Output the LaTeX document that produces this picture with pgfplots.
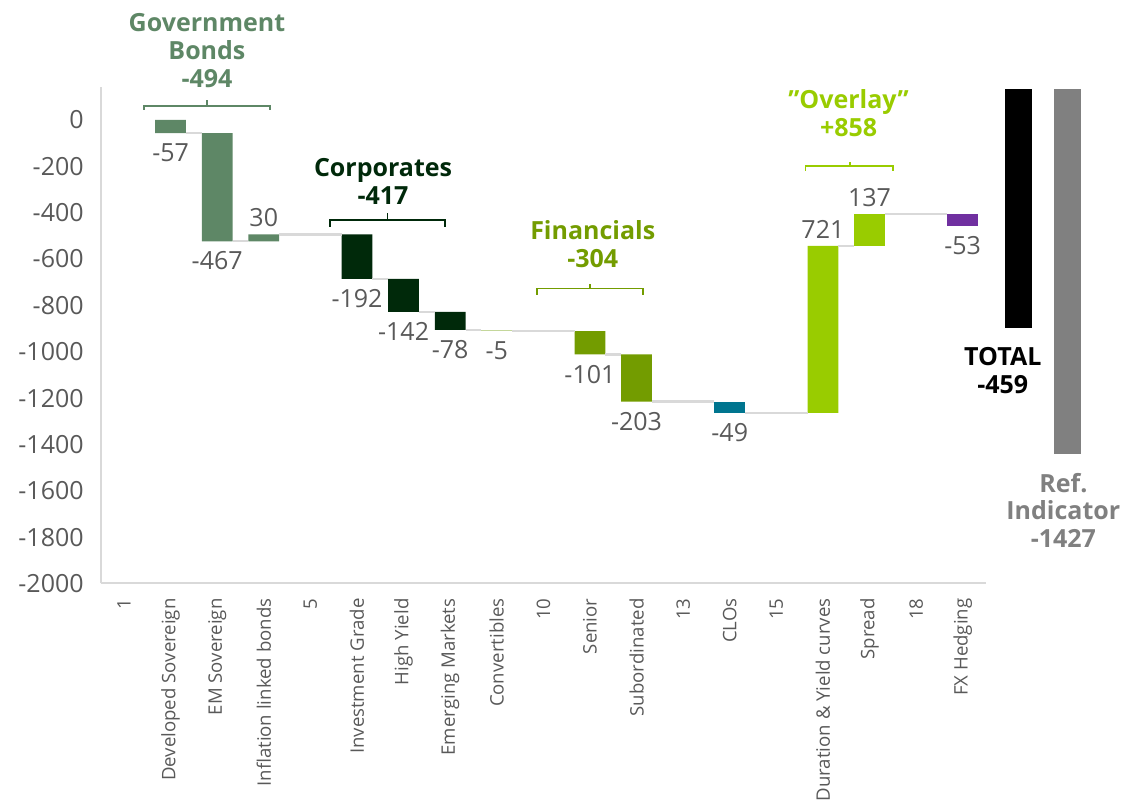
\documentclass[border=0pt]{standalone}
\usepackage{fontspec}
\setmainfont{Open Sans}
\usepackage{pgfplots}
\usepackage{pgfplotstable}
\pgfplotsset{compat=1.18}

\definecolor{govc}{HTML}{5E8766}
\definecolor{corpc}{HTML}{00290A}
\definecolor{convc}{HTML}{C4D79B}
\definecolor{finc}{HTML}{739C00}
\definecolor{cloc}{HTML}{00758F}
\definecolor{ovlc}{HTML}{99CC00}
\definecolor{fxc}{HTML}{7030A0}
\definecolor{refc}{HTML}{808080}
\definecolor{txtc}{HTML}{595959}
\definecolor{linec}{HTML}{D9D9D9}

% waterfall: invisible base + visible step, one column per colour group
\pgfplotstableread{
x       base   gov    corp   conv   fin    clo    ovl    fx     tot     ref
2       0      -57    0      0      0      0      0      0      0       0
3       -57    -467   0      0      0      0      0      0      0       0
4       -524   30     0      0      0      0      0      0      0       0
6       -494   0      -192   0      0      0      0      0      0       0
7       -686   0      -142   0      0      0      0      0      0       0
8       -828   0      -78    0      0      0      0      0      0       0
9       -906   0      0      -5     0      0      0      0      0       0
11      -911   0      0      0      -101   0      0      0      0       0
12      -1012  0      0      0      -203   0      0      0      0       0
14      -1215  0      0      0      0      -49    0      0      0       0
16      -1264  0      0      0      0      0      721    0      0       0
17      -543   0      0      0      0      0      137    0      0       0
19      -406   0      0      0      0      0      0      -53    0       0
20.195  134    0      0      0      0      0      0      0      -1031   0
21.24   134    0      0      0      0      0      0      0      0       -1574
}\bars

% value labels: x, end of bar, text
\pgfplotstableread{
x    y      lbl
2    -57    -57
3    -524   -467
6    -686   -192
7    -828   -142
8    -906   -78
9    -911   -5
11   -1012  -101
12   -1215  -203
14   -1264  -49
19   -459   -53
}\neglbl
\pgfplotstableread{
x    y      lbl
4    -494   30
16   -543   721
17   -406   137
}\poslbl

\pgfplotsset{wf/.style={
  width=442.65pt, height=248pt, scale only axis,
  xmin=0.5, xmax=19.5, ymin=-2000, ymax=140, clip=false}}

\begin{document}
\begin{tikzpicture}
\begin{axis}[wf, ybar stacked, stack negative=on previous, bar width=0.66,
  axis x line*=bottom, axis y line*=left,
  axis line style={-, draw=linec, line width=1pt},
  major tick length=0pt,
  xtick={1,...,19},
  xticklabels={1,Developed Sovereign,EM Sovereign,Inflation linked bonds,5,Investment Grade,High Yield,Emerging Markets,Convertibles,10,Senior,Subordinated,13,CLOs,15,Duration \& Yield curves,Spread,18,FX Hedging},
  xticklabel style={rotate=90, anchor=east, text=txtc, font=\fontsize{9.3}{11}\selectfont},
  xticklabel shift=4pt,
  ytick={0,-200,-400,-600,-800,-1000,-1200,-1400,-1600,-1800,-2000},
  yticklabels={0,-200,-400,-600,-800,-1000,-1200,-1400,-1600,-1800,-2000},
  yticklabel style={text=txtc, font=\fontsize{12.5}{15}\selectfont},
  yticklabel shift=5pt,
]
\addplot[fill=none, draw=none] table[x=x, y=base] {\bars};
\addplot[fill=govc, draw=none] table[x=x, y=gov] {\bars};
\addplot[fill=corpc, draw=none] table[x=x, y=corp] {\bars};
\addplot[fill=convc, draw=none] table[x=x, y=conv] {\bars};
\addplot[fill=finc, draw=none] table[x=x, y=fin] {\bars};
\addplot[fill=cloc, draw=none] table[x=x, y=clo] {\bars};
\addplot[fill=ovlc, draw=none] table[x=x, y=ovl] {\bars};
\addplot[fill=fxc, draw=none] table[x=x, y=fx] {\bars};
\addplot[fill=black, draw=none, bar width=0.58] table[x=x, y=tot] {\bars};
\addplot[fill=refc, draw=none, bar width=0.58] table[x=x, y=ref] {\bars};

% group titles
\tikzset{grp/.style={anchor=south, inner sep=0pt, align=center,
  font=\bfseries\fontsize{12.5}{14}\selectfont}}
\node[grp, text=govc] at (axis cs:2.78,138) {Government\\Bonds\\-494};
\node[grp, text=corpc] at (axis cs:6.56,-366) {Corporates\\-417};
\node[grp, text=finc] at (axis cs:11.06,-638) {Financials\\-304};
\node[grp, text=ovlc] at (axis cs:16.55,-73) {”Overlay”\\+858};
\node[grp, text=black] at (axis cs:19.86,-1181) {TOTAL\\-459};
\node[grp, text=refc, font=\bfseries\fontsize{12.5}{13.7}\selectfont] at (axis cs:21.16,-1845) {Ref.\\Indicator\\-1427};

% brackets
\draw[govc, line width=0.7pt] (axis cs:1.43,43) -- (axis cs:1.43,60) -- (axis cs:4.13,60) -- (axis cs:4.13,43)
  (axis cs:2.78,60) -- (axis cs:2.78,84);
\draw[corpc, line width=0.7pt] (axis cs:5.42,-461) -- (axis cs:5.42,-431) -- (axis cs:7.89,-431) -- (axis cs:7.89,-461)
  (axis cs:6.65,-431) -- (axis cs:6.65,-401);
\draw[finc, line width=0.7pt] (axis cs:9.86,-754) -- (axis cs:9.86,-728) -- (axis cs:12.14,-728) -- (axis cs:12.14,-754)
  (axis cs:11.0,-728) -- (axis cs:11.0,-707);
\draw[ovlc, line width=0.7pt] (axis cs:15.63,-220) -- (axis cs:15.63,-198) -- (axis cs:17.5,-198) -- (axis cs:17.5,-220)
  (axis cs:16.58,-198) -- (axis cs:16.58,-181);
\end{axis}

\begin{axis}[wf, hide axis]
% connectors between consecutive bars
\addplot[linec, line width=1.1pt, unbounded coords=jump] coordinates {
  (2.33,-57) (2.67,-57) (nan,nan)
  (3.33,-524) (3.67,-524) (nan,nan)
  (4.33,-494) (5.67,-494) (nan,nan)
  (6.33,-686) (6.67,-686) (nan,nan)
  (7.33,-828) (7.67,-828) (nan,nan)
  (8.33,-906) (8.67,-906) (nan,nan)
  (9.33,-911) (10.67,-911) (nan,nan)
  (11.33,-1012) (11.67,-1012) (nan,nan)
  (12.33,-1215) (13.67,-1215) (nan,nan)
  (14.33,-1264) (15.67,-1264) (nan,nan)
  (16.33,-543) (16.67,-543) (nan,nan)
  (17.33,-406) (18.67,-406)
};
\addplot[draw=none, nodes near coords, point meta=explicit symbolic,
  nodes near coords style={anchor=north, inner sep=3pt, yshift=-2pt, text=txtc, font=\fontsize{12.5}{15}\selectfont}]
  table[x=x, y=y, meta=lbl] {\neglbl};
\addplot[draw=none, nodes near coords, point meta=explicit symbolic,
  nodes near coords style={anchor=south, inner sep=3pt, yshift=0.5pt, text=txtc, font=\fontsize{12.5}{15}\selectfont}]
  table[x=x, y=y, meta=lbl] {\poslbl};
\end{axis}

\pgfresetboundingbox
\useasboundingbox (-50.35pt,-108.75pt) rectangle (511.65pt,291.75pt);
\end{tikzpicture}
\end{document}
